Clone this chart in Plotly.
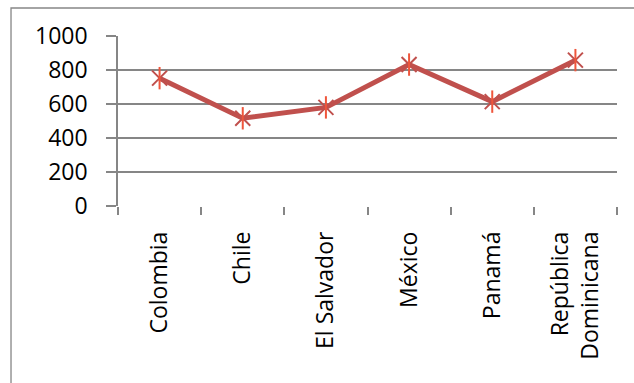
import plotly.graph_objects as go

categories = ["Colombia", "Chile", "El Salvador", "México", "Panamá", "República<br>Dominicana"]
values = [752, 516, 580, 832, 614, 858]
y_ticks = [0, 200, 400, 600, 800, 1000]

red = "#C0504D"
gray = "#868686"
font_family = "Open Sans"
fsize = 23

fig = go.Figure()
fig.add_trace(go.Scatter(
    x=categories, y=values, mode="lines+markers",
    line=dict(color=red, width=5),
    marker=dict(symbol="x-thin-open", size=15, line=dict(color=red, width=2)),
    hoverinfo="skip", showlegend=False,
))
fig.add_trace(go.Scatter(
    x=categories, y=values, mode="markers",
    marker=dict(symbol="line-ns-open", size=16, line=dict(color=red, width=2)),
    hoverinfo="skip", showlegend=False,
))

fig.update_layout(
    width=634, height=383,
    margin=dict(l=118, r=17, t=36, b=177),
    paper_bgcolor="white", plot_bgcolor="white",
    font=dict(family=font_family, size=fsize, color="black"),
    shapes=[dict(type="rect", xref="paper", yref="paper",
                 x0=-0.2144, x1=1.2, y0=-1.5, y1=1.1647,
                 line=dict(color=gray, width=1.3), fillcolor="rgba(0,0,0,0)", layer="below")],
)
fig.update_xaxes(
    type="category", tickangle=-90, tickson="boundaries",
    ticks="outside", ticklen=8, tickcolor=gray, tickwidth=1.5,
    showline=False, showgrid=False, zeroline=False,
    ticklabelstandoff=20,
    tickfont=dict(family=font_family, size=fsize, color="black"),
    range=[-0.5, len(categories) - 0.5],
)
fig.update_yaxes(
    range=[0, 1000], tickvals=y_ticks, ticktext=[str(v) for v in y_ticks],
    ticks="outside", ticklen=10, tickcolor=gray, tickwidth=1.5,
    showline=True, linecolor=gray, linewidth=1.5,
    showgrid=True, gridcolor=gray, gridwidth=1.5,
    zeroline=False,
    ticklabelstandoff=14,
    tickfont=dict(family=font_family, size=fsize, color="black"),
)
fig.write_html("out.html")
